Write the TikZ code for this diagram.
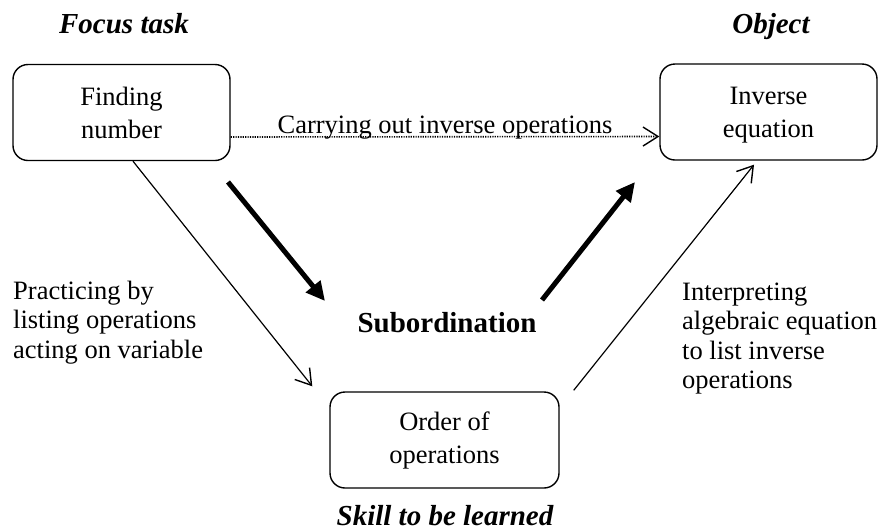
\documentclass[tikz,border=0pt]{standalone}
\usepackage{fontspec}
\setmainfont{Liberation Serif}
\usetikzlibrary{arrows.meta}
\begin{document}
\begin{tikzpicture}[x=1pt,y=-1pt,
  box/.style={draw, line width=1.4pt, rounded corners=15pt, align=center,
    inner sep=0pt, minimum height=96pt,
    font=\fontsize{26.5}{33}\selectfont},
  heading/.style={anchor=base, inner sep=0pt,
    font=\fontsize{29}{33}\selectfont\bfseries\itshape},
  note/.style={anchor=base west, inner sep=0pt,
    font=\fontsize{26.5}{29.5}\selectfont},
  label/.style={anchor=base, inner sep=0pt,
    font=\fontsize{26.5}{30}\selectfont},
  thin/.style={line width=1.2pt, -{Straight Barb[length=15pt,width=19pt,line width=1.4pt]}},
  thick/.style={line width=5pt, -{Triangle[length=19pt,width=18pt]}},
  dots/.style={thin, line width=1.6pt, dash pattern=on 1.2pt off 1.2pt}]
\useasboundingbox (0,0) rectangle (884,531);

% headings
\node[heading] (hfocus) at (124,33) {Focus task};
\node[heading] (hobject) at (771,33) {Object};
\node[heading] (hskill) at (445,525) {Skill to be learned};

% boxes
\node[box, minimum width=217pt] (fn) at (121.5,112.5) {Finding\\number};
\node[box, minimum width=217pt, text depth=0pt] (ie) at (768.5,112) {Inverse\\equation};
\node[box, minimum width=229pt] (oo) at (444.5,440) {Order of\\operations};

% middle label
\node[anchor=base, inner sep=0pt, font=\fontsize{29}{33}\selectfont\bfseries]
  (sub) at (447,332) {Subordination};

% side notes
\node[note] (left) at (13,299)
  {\begin{tabular}[t]{@{}l@{}}Practicing by\\listing operations\\acting on variable\end{tabular}};
\node[note] (right) at (682,300)
  {\begin{tabular}[t]{@{}l@{}}Interpreting\\algebraic equation\\to list inverse\\operations\end{tabular}};

% top connector with its label
\node[label] (carry) at (445,133) {Carrying out inverse operations};
\draw[dots] ([yshift=-24.5pt]fn.east) -- ([yshift=-24.5pt]ie.west);

% thin connectors
\draw[thin] ([xshift=11.5pt]fn.south) -- ([xshift=-17pt,yshift=5pt]oo.north west);
\draw[thin] ([xshift=14pt,yshift=1pt]oo.north east) -- ([xshift=-14.5pt,yshift=-4pt]ie.south);

% thick arrows around the subordination label
\coordinate (s1) at (228,182);
\coordinate (e1) at (325,301);
\coordinate (s2) at (542,300);
\coordinate (e2) at (635,182);
\draw[thick] (s1) -- (e1);
\draw[thick] (s2) -- (e2);
\end{tikzpicture}
\end{document}
